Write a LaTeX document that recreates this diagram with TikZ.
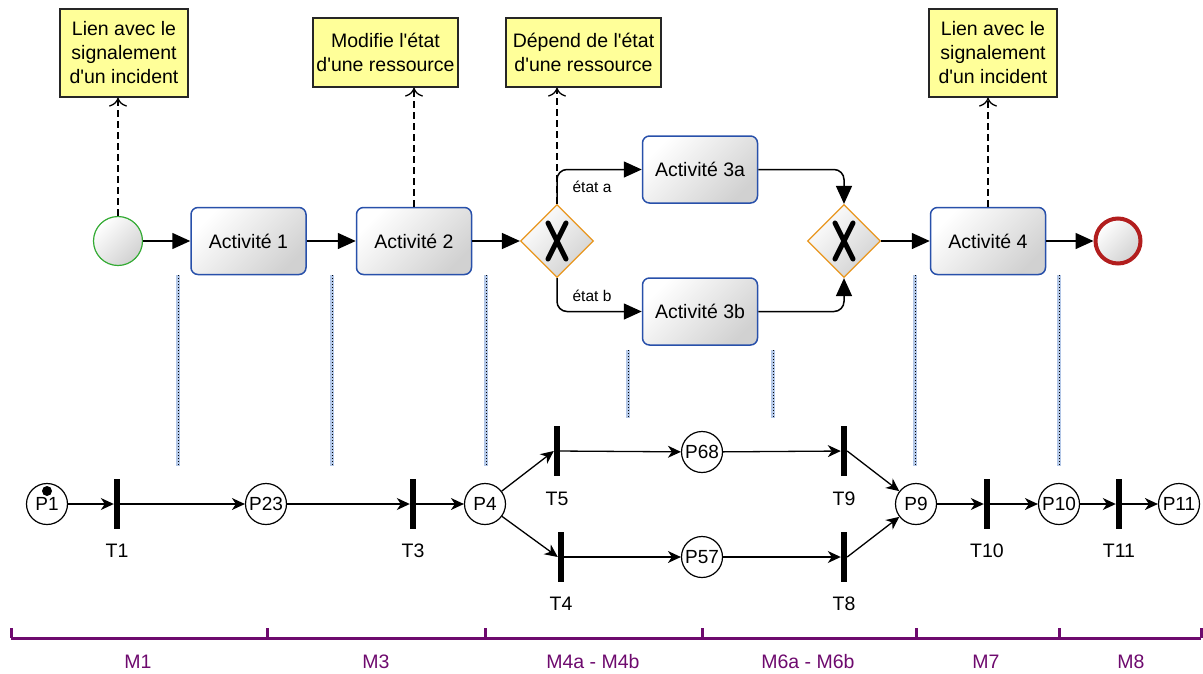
\documentclass[tikz,border=0pt]{standalone}
\usepackage{fontspec}
\setmainfont[Ligatures=TeXOff]{Liberation Sans}
\usetikzlibrary{arrows.meta,shapes.geometric}
\definecolor{boxblue}{RGB}{40,80,170}
\definecolor{noteyellow}{RGB}{255,255,153}
\definecolor{gwor}{RGB}{232,150,30}
\definecolor{startgreen}{RGB}{50,170,50}
\definecolor{endred}{RGB}{178,30,30}
\definecolor{mpurple}{RGB}{110,10,110}
\definecolor{dotblue}{RGB}{180,200,232}
\begin{document}
\begin{tikzpicture}[x=1pt,y=-1pt,font=\fontsize{19.5}{24}\selectfont,
  act/.style={draw=boxblue,line width=1.5pt,rounded corners=7pt,top color=white,bottom color=black!18,shading angle=45,minimum width=115pt,minimum height=67pt,inner sep=0pt},
  note/.style={draw=black!85,line width=1.2pt,fill=noteyellow,align=center,inner sep=0pt},
  gw/.style={diamond,draw=gwor,line width=1.2pt,top color=white,bottom color=black!18,shading angle=45,minimum width=73pt,minimum height=73pt,inner sep=0pt},
  startev/.style={circle,draw=startgreen,line width=1.2pt,top color=white,bottom color=black!18,shading angle=45,minimum size=49pt,inner sep=0pt},
  endev/.style={circle,draw=endred,line width=4pt,top color=white,bottom color=black!18,shading angle=45,minimum size=45pt,inner sep=0pt},
  place/.style={circle,draw,line width=1.2pt,fill=white,minimum size=41pt,inner sep=0pt,font=\fontsize{19}{20}\selectfont},
  trans/.style={rectangle,fill=black,minimum width=6pt,minimum height=50pt,inner sep=0pt},
  seq/.style={line width=1.5pt,-{Triangle[length=18pt,width=16pt]}},
  assoc/.style={line width=1.3pt,dash pattern=on 7pt off 4pt,-{Computer Modern Rightarrow[length=9pt,width=18pt]}},
  pn/.style={line width=1.3pt,-{Stealth[length=13pt,width=12pt,inset=4pt]}},
  sync/.style={preaction={draw=dotblue,line width=3.5pt},draw=black,line width=1pt,dash pattern=on 1.2pt off 1.8pt},
  xmark/.style={line width=5pt,line cap=round},
  small/.style={font=\fontsize{15.5}{18}\selectfont},
  axis/.style={draw=mpurple,line width=3pt},
  mlabel/.style={text=mpurple}]
\useasboundingbox (0,0) rectangle (1203,673);

% notes
\node[note,minimum width=128pt,minimum height=88pt] (n1) at (124,53) {Lien avec le\\signalement\\d'un incident};
\node[note,minimum width=145pt,minimum height=69pt] (n2) at (385.5,52.5) {Modifie l'état\\d'une ressource};
\node[note,minimum width=155pt,minimum height=69pt] (n3) at (583.5,52.5) {Dépend de l'état\\d'une ressource};
\node[note,minimum width=128pt,minimum height=88pt] (n4) at (993,53) {Lien avec le\\signalement\\d'un incident};

% BPMN
\node[startev] (s) at (118,241) {};
\node[act] (a1) at (248.5,241) {Activité 1};
\node[act] (a2) at (414,241) {Activité 2};
\node[gw] (g1) at (557,241) {};
\node[act] (a3a) at (700,169.5) {Activité 3a};
\node[act] (a3b) at (700,311.5) {Activité 3b};
\node[gw] (g2) at (844,241) {};
\node[act] (a4) at (988,241) {Activité 4};
\node[endev] (e) at (1118,241) {};

\draw[xmark,shift={(g1)}] (-9,-18) -- (9,18) (9,-18) -- (-9,18);
\draw[xmark,shift={(g2)}] (-9,-18) -- (9,18) (9,-18) -- (-9,18);

\draw[seq] (s) -- (a1);
\draw[seq] (a1) -- (a2);
\draw[seq] (a2) -- (g1);
\draw[seq,rounded corners=10pt] (g1.north) |- (a3a.west);
\draw[seq,rounded corners=10pt] (g1.south) |- (a3b.west);
\draw[seq,rounded corners=10pt] (a3a.east) -| (g2.north);
\draw[seq,rounded corners=10pt] (a3b.east) -| (g2.south);
\draw[seq] (g2) -- (a4);
\draw[seq] (a4) -- (e);

\node[small] (la) at (592,187) {état a};
\node[small] (lb) at (592,296) {état b};

\draw[assoc] (s.north) -- (s.north |- n1.south);
\draw[assoc] (a2.north) -- (a2.north |- n2.south);
\draw[assoc] (g1.north) -- (g1.north |- n3.south);
\draw[assoc] (a4.north) -- (a4.north |- n4.south);

% synchronisation lines
\coordinate (d1a) at (178,275); \coordinate (d1b) at (178,466);
\coordinate (d2a) at (332,275); \coordinate (d2b) at (332,466);
\coordinate (d3a) at (486,275); \coordinate (d3b) at (486,466);
\coordinate (d4a) at (628,350); \coordinate (d4b) at (628,418);
\coordinate (d5a) at (773,350); \coordinate (d5b) at (773,418);
\coordinate (d6a) at (915,275); \coordinate (d6b) at (915,466);
\coordinate (d7a) at (1059,275); \coordinate (d7b) at (1059,466);
\foreach \i in {1,...,7} {\draw[sync] (d\i a) -- (d\i b);}

% Petri net
\node[place] (p1) at (47,504) {P1};
\fill (47,491) circle (5pt);
\node[trans] (t1) at (117,504) {};
\node[place] (p23) at (266,504) {P23};
\node[trans] (t3) at (413,504) {};
\node[place] (p4) at (485,504) {P4};
\node[trans] (t5) at (557,451) {};
\node[trans] (t4) at (561,557) {};
\node[place] (p68) at (702,452) {P68};
\node[place] (p57) at (702,557) {P57};
\node[trans] (t9) at (844,451) {};
\node[trans] (t8) at (844,557) {};
\node[place] (p9) at (916,504) {P9};
\node[trans] (t10) at (987,504) {};
\node[place] (p10) at (1059,504) {P10};
\node[trans] (t11) at (1119,504) {};
\node[place] (p11) at (1179,504) {P11};

\node (lt1) at (117,551) {T1};
\node (lt3) at (413,551) {T3};
\node (lt5) at (557,499) {T5};
\node (lt4) at (561,604) {T4};
\node (lt9) at (844,499) {T9};
\node (lt8) at (844,604) {T8};
\node (lt10) at (987,551) {T10};
\node (lt11) at (1119,551) {T11};

\draw[pn] (p1) -- (t1);
\draw[pn] (t1) -- (p23);
\draw[pn] (p23) -- (t3);
\draw[pn] (t3) -- (p4);
\draw[pn] (p4) -- (t5.west);
\draw[pn] (p4) -- (t4.west);
\draw[pn] (t5) -- (p68);
\draw[pn] (t4) -- (p57);
\draw[pn] (p68) -- (t9);
\draw[pn] (p57) -- (t8);
\draw[pn] (t9.east) -- (p9);
\draw[pn] (t8.east) -- (p9);
\draw[pn] (p9) -- (t10);
\draw[pn] (t10) -- (p10);
\draw[pn] (p10) -- (t11);
\draw[pn] (t11) -- (p11);

% axis
\coordinate (k0) at (11,638); \coordinate (k1) at (267,638); \coordinate (k2) at (485,638);
\coordinate (k3) at (702,638); \coordinate (k4) at (916,638); \coordinate (k5) at (1059,638);
\coordinate (k6) at (1201,638);
\draw[axis] (k0) -- (k6);
\foreach \k in {k0,k1,k2,k3,k4,k5,k6} {\draw[axis] (\k) -- ++(0,-10);}
\node[mlabel] (m1) at (138,662) {M1};
\node[mlabel] (m3) at (376,662) {M3};
\node[mlabel] (m4) at (593,662) {M4a - M4b};
\node[mlabel] (m6) at (808,662) {M6a - M6b};
\node[mlabel] (m7) at (986,662) {M7};
\node[mlabel] (m8) at (1131,662) {M8};
\end{tikzpicture}
\end{document}
